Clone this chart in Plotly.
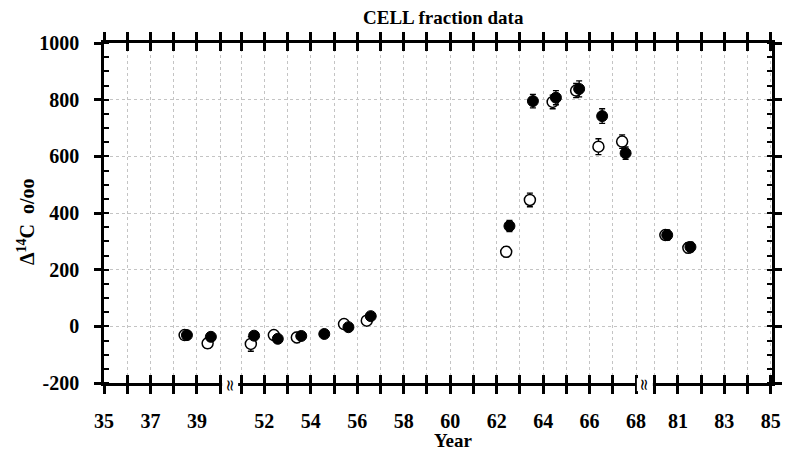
import plotly.graph_objects as go

# ---- data (years) ----
open_years = [38.47, 39.46, 51.42, 52.41, 53.40, 55.43, 56.41, 62.41, 63.43, 64.41, 65.42, 66.38, 67.40, 80.46, 81.45]
open_vals = [-31, -60, -62, -31, -39, 8, 20, 263, 446, 792, 832, 634, 652, 322, 277]
open_err = [12, 18, 26, 16, 18, 15, 15, 18, 24, 24, 25, 28, 24, 15, 18]

filled_years = [38.57, 39.60, 51.56, 52.58, 53.59, 54.58, 55.62, 56.58, 62.55, 63.56, 64.55, 65.55, 66.54, 67.55, 80.54, 81.54]
filled_vals = [-31, -37, -33, -44, -34, -27, -3, 36, 354, 795, 807, 838, 742, 611, 322, 280]
filled_err = [12, 12, 12, 12, 12, 10, 12, 12, 20, 24, 25, 28, 26, 22, 18, 17]

# axis segments (broken axis) and tick labels
seg1_years = [35, 36, 37, 38, 39, 40]
seg2_years = list(range(51, 69))
seg3_years = [80, 81, 82, 83, 84, 85]
label_years = [35, 37, 39, 52, 54, 56, 58, 60, 62, 64, 66, 68, 81, 83, 85]

SEG2_SHIFT = 10.1
SEG3_SHIFT = 21.3


def to_u(yr):
    if yr < 45:
        return yr
    if yr < 75:
        return yr - SEG2_SHIFT
    return yr - SEG3_SHIFT


all_years = seg1_years + seg2_years + seg3_years
tick_u = [to_u(y) for y in all_years]
tick_txt = [f"<b>{y}</b>" if y in label_years else " " for y in all_years]

FONT = "Liberation Serif"

fig = go.Figure()
fig.add_trace(go.Scatter(
    x=[to_u(y) for y in open_years], y=open_vals, mode="markers",
    marker=dict(size=11, color="white", line=dict(color="black", width=1.5)),
    error_y=dict(type="data", array=open_err, color="black", thickness=1.3, width=3),
    showlegend=False))
fig.add_trace(go.Scatter(
    x=[to_u(y) for y in filled_years], y=filled_vals, mode="markers", xaxis="x2",
    marker=dict(size=11, color="black", line=dict(color="black", width=1)),
    error_y=dict(type="data", array=filled_err, color="black", thickness=1.3, width=3),
    showlegend=False))

xcommon = dict(range=[35, to_u(85) + 0.05], tickmode="array", tickvals=tick_u,
               showline=True, linecolor="black", linewidth=2.5, mirror="ticks",
               ticklen=8, tickwidth=2.5, tickcolor="black", zeroline=False)

ytickvals = [-200, 0, 200, 400, 600, 800, 1000]

fig.update_layout(
    width=794, height=451,
    margin=dict(l=104, r=13, t=43, b=68),
    paper_bgcolor="white", plot_bgcolor="white",
    xaxis=dict(**xcommon, ticks="outside", ticktext=tick_txt,
               tickfont=dict(family=FONT, size=20, color="black"),
               ticklabelstandoff=10,
               showgrid=True, gridcolor="#c4c4c4", gridwidth=1, griddash="dot"),
    xaxis2=dict(**xcommon, ticks="inside", overlaying="x", matches="x", anchor="y",
                showticklabels=False, showgrid=False),
    yaxis=dict(range=[-200, 1000], tickmode="array", tickvals=ytickvals,
               ticktext=[f"<b>{v}</b>" for v in ytickvals],
               ticks="outside", ticklen=7, tickwidth=2.5, tickcolor="black",
               showline=True, linecolor="black", linewidth=2.5, mirror="ticks",
               tickfont=dict(family=FONT, size=20, color="black"),
               ticklabelstandoff=11,
               showgrid=True, gridcolor="#c4c4c4", gridwidth=1, griddash="dot",
               zeroline=False,
               minor=dict(ticks="inside", ticklen=5, tickwidth=2, tickcolor="black",
                          tickmode="linear", tick0=-200, dtick=50, showgrid=False)),
)

annotations = [
    dict(text="<b>CELL fraction data</b>", xref="paper", yref="paper", x=0.508, y=1.075,
         xanchor="center", yanchor="middle",
         showarrow=False, font=dict(family=FONT, size=19, color="black")),
    dict(text="<b>Year</b>", xref="paper", yref="paper", x=0.523, y=-0.168,
         xanchor="center", yanchor="middle",
         showarrow=False, font=dict(family=FONT, size=19, color="black")),
    dict(text="<b>Δ<sup>14</sup>C  o/oo</b>", xref="paper", yref="paper", x=-0.1167, y=0.4735,
         xanchor="center", yanchor="middle", textangle=-90, showarrow=False,
         font=dict(family=FONT, size=20, color="black")),
]
# axis break marks
for a, b in [(40, 51), (68, 80)]:
    annotations.append(dict(text="≈", xref="x", yref="y", x=(to_u(a) + to_u(b)) / 2, y=-200,
                            xanchor="center", yanchor="middle", yshift=-2,
                            textangle=90, showarrow=False, bgcolor="white", borderpad=0,
                            width=12, height=15,
                            font=dict(family="DejaVu Sans", size=16, color="black")))
fig.update_layout(annotations=annotations)

fig.write_html("out.html")
